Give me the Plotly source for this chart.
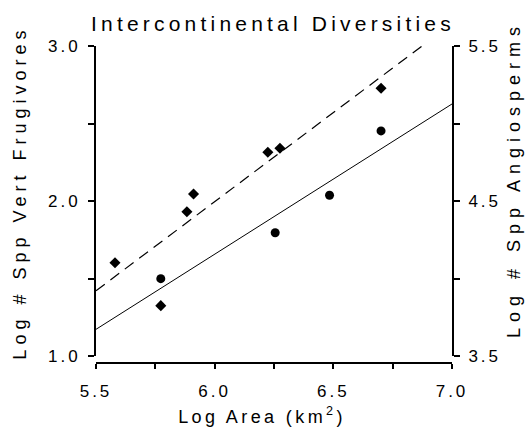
import plotly.graph_objects as go

# Data
area_frug = [5.58, 5.773, 5.883, 5.911, 6.224, 6.275, 6.701]
frugivores = [1.602, 1.325, 1.931, 2.045, 2.314, 2.340, 2.727]

area_angio = [5.773, 6.255, 6.484, 6.701]
angiosperms = [3.999, 4.295, 4.537, 4.952]

fit_x = [5.5, 7.0]
fit_frug = [1.421, 3.145]
fit_angio = [3.672, 5.126]

x_ticks = [5.5, 6.0, 6.5, 7.0]
x_labels = ["5.5", "6.0", "6.5", "7.0"]
x_minor = [5.75, 6.25, 6.75]
yl_ticks = [1.0, 2.0, 3.0]
yl_labels = ["1.0", "2.0", "3.0"]
yl_minor = [1.5, 2.5]
yr_ticks = [3.5, 4.5, 5.5]
yr_labels = ["3.5", "4.5", "5.5"]
yr_minor = [4.0, 5.0]

FONT = "Liberation Sans, Arial, Helvetica, sans-serif"

fig = go.Figure()
fig.add_trace(go.Scatter(x=fit_x, y=fit_frug, mode="lines",
                         line=dict(color="black", width=1.2, dash="11px,7px"),
                         showlegend=False, hoverinfo="skip"))
fig.add_trace(go.Scatter(x=fit_x, y=fit_angio, mode="lines", yaxis="y2",
                         line=dict(color="black", width=1),
                         showlegend=False, hoverinfo="skip"))
fig.add_trace(go.Scatter(x=area_frug, y=frugivores, mode="markers",
                         marker=dict(symbol="diamond", size=8.5, color="black"),
                         showlegend=False))
fig.add_trace(go.Scatter(x=area_angio, y=angiosperms, mode="markers", yaxis="y2",
                         marker=dict(symbol="circle", size=9, color="black"),
                         showlegend=False))

tickfont = dict(family=FONT, size=17, color="black")
titlefont = dict(family=FONT, size=18, color="black")


def minor(vals, ln):
    return dict(tickvals=vals, ticks="outside", ticklen=ln, tickwidth=1.5,
                tickcolor="black", showgrid=False)


fig.update_layout(
    width=528, height=428,
    margin=dict(l=96, r=76, t=46, b=65, autoexpand=False),
    paper_bgcolor="white", plot_bgcolor="white",
    title=dict(text="Intercontinental Diversities", x=0.517, xanchor="center",
               y=1 - 24 / 428, yanchor="middle",
               font=dict(family=FONT, size=21, color="black")),
    xaxis=dict(range=[5.5, 7.0], anchor="free", position=0, automargin=False,
               showline=True, linecolor="black", linewidth=2,
               ticks="outside", ticklen=5, tickwidth=1.5, tickcolor="black",
               tickvals=x_ticks, ticktext=x_labels, ticklabelstandoff=8,
               minor=minor(x_minor, 5),
               tickfont=tickfont, showgrid=False, zeroline=False),
    yaxis=dict(range=[1.0, 3.0], domain=[7 / 317, 1], automargin=False,
               showline=True, linecolor="black", linewidth=2,
               ticks="outside", ticklen=6, tickwidth=1.5, tickcolor="black",
               tickvals=yl_ticks, ticktext=yl_labels, ticklabelstandoff=4,
               minor=minor(yl_minor, 6),
               tickfont=tickfont, showgrid=False, zeroline=False),
    yaxis2=dict(range=[3.5, 5.5], overlaying="y", side="right", anchor="x", automargin=False,
                showline=True, linecolor="black", linewidth=2,
                ticks="outside", ticklen=6, tickwidth=1.5, tickcolor="black",
                tickvals=yr_ticks, ticktext=yr_labels, ticklabelstandoff=5,
                minor=minor(yr_minor, 6),
                tickfont=tickfont, showgrid=False, zeroline=False),
    annotations=[
        dict(text="Log # Spp Vert Frugivores", xref="paper", yref="paper",
             x=-0.2135, y=0.539, xanchor="center", yanchor="middle",
             textangle=-90, showarrow=False, font=titlefont),
        dict(text="Log # Spp Angiosperms", xref="paper", yref="paper",
             x=1.174, y=0.58, xanchor="center", yanchor="middle",
             textangle=-90, showarrow=False, font=titlefont),
        dict(text="Log Area (km<sup>2</sup>)", xref="paper", yref="paper",
             x=0.466, y=-0.167, xanchor="center", yanchor="middle",
             showarrow=False, font=titlefont),
    ],
)

# Letter spacing of the original typesetting
post_js = """
var st = document.createElement('style');
st.textContent = '.gtitle{letter-spacing:4.2px}' +
  ' .xtick text,.ytick text,.y2tick text{letter-spacing:3px}' +
  ' .annotation[data-index="0"] text{letter-spacing:5px}' +
  ' .annotation[data-index="1"] text{letter-spacing:6px}' +
  ' .annotation[data-index="2"] text{letter-spacing:3.4px}';
document.head.appendChild(st);
"""

fig.write_html("out.html", post_script=post_js)
